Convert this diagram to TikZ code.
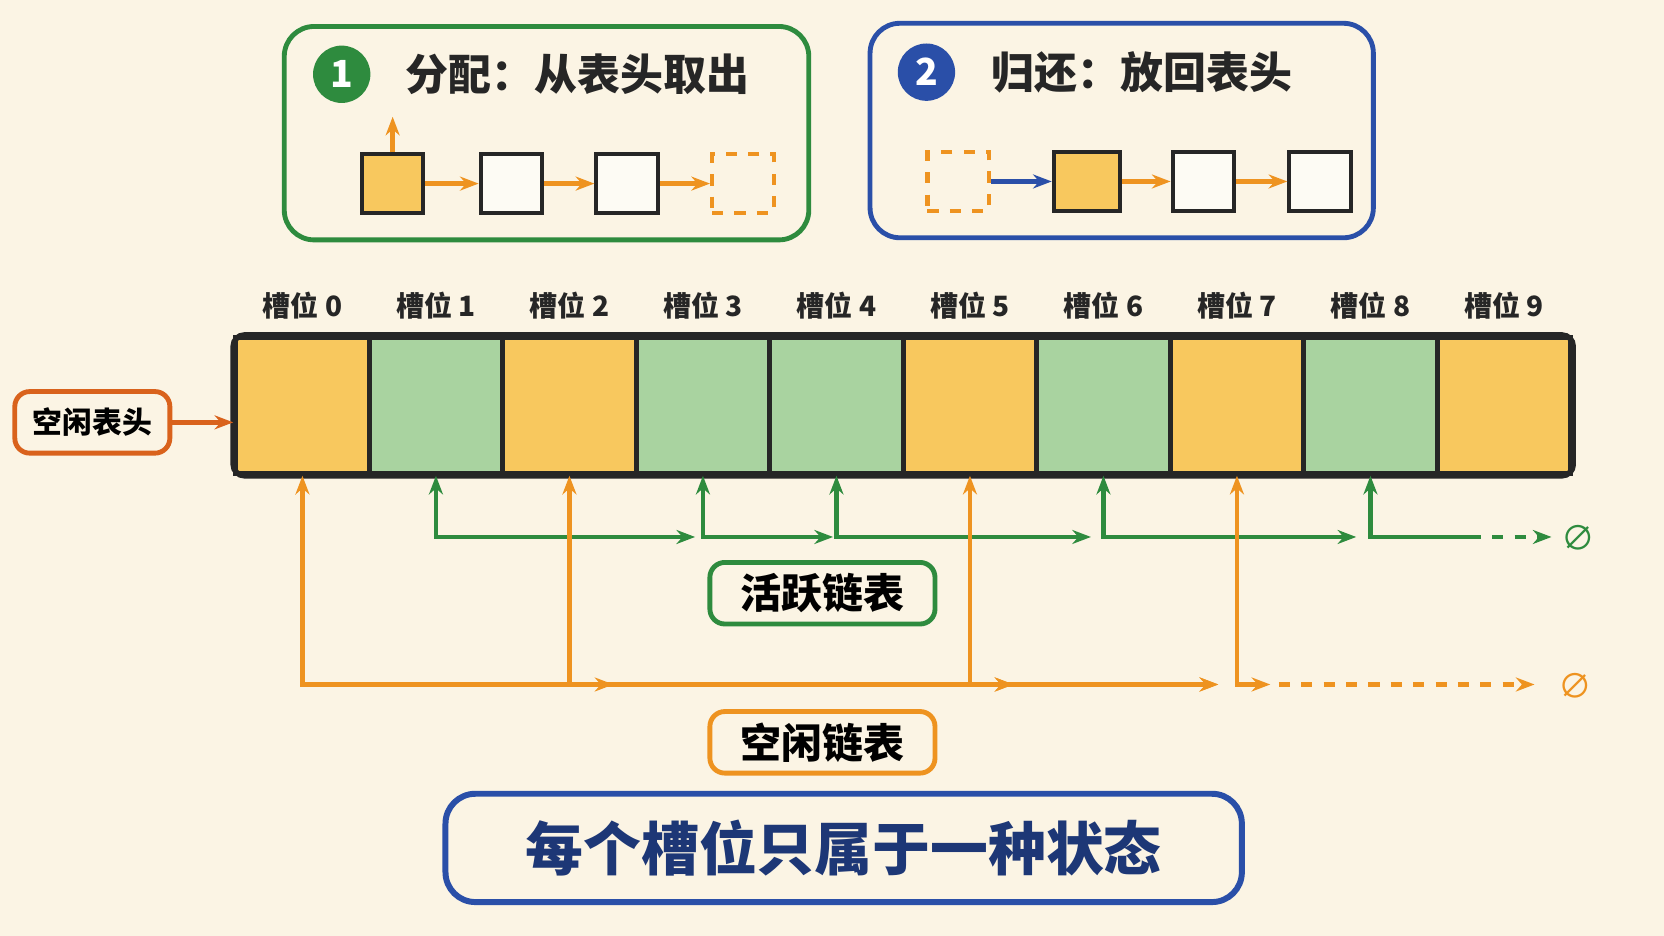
\documentclass[tikz,border=0pt]{standalone}
\usepackage{fontspec}
\setmainfont{Noto Sans CJK SC}
\usetikzlibrary{arrows.meta}
\definecolor{bg}{HTML}{FBF4E4}
\definecolor{yel}{HTML}{F8C85E}
\definecolor{grn}{HTML}{A9D3A0}
\definecolor{dgrn}{HTML}{2E8B3E}
\definecolor{org}{HTML}{EE9320}
\definecolor{dorg}{HTML}{D9621C}
\definecolor{blu}{HTML}{2A4FA8}
\definecolor{ink}{HTML}{262626}
\tikzset{
 slot/.style={draw=ink,line width=1.3pt,minimum width=1.258cm,minimum height=1.28cm,inner sep=0},
 mini/.style={draw=ink,line width=1.1pt,minimum width=0.58cm,minimum height=0.55cm,inner sep=0,fill=white!60!bg},
 lbl/.style={font=\fontsize{7.5}{8}\selectfont\bfseries,text=ink},
 tag/.style={rounded corners=4pt,line width=1.3pt,fill=bg,inner sep=0,minimum height=0.58cm},
 ga/.style={draw=dgrn,line width=1.2pt,{Stealth[length=5pt]}-{Stealth[length=5pt]}},
 oa/.style={draw=org,line width=1.2pt,{Stealth[length=5pt]}-{Stealth[length=5pt]}},
 ar/.style={line width=1.2pt,-{Stealth[length=5pt]}},
}
\begin{document}
\begin{tikzpicture}[x=0.01cm,y=-0.01cm]
\fill[bg] (0,0) rectangle (1568,882);
\useasboundingbox (0,0) rectangle (1568,882);
% top panel 1
\node[draw=dgrn,line width=1.3pt,rounded corners=8pt,minimum width=4.94cm,minimum height=2.01cm] (p1) at (515,125.5) {};
\node[circle,fill=dgrn,minimum size=0.54cm,inner sep=0,text=white,font=\fontsize{10}{10}\selectfont\bfseries] (c1) at (322,70) {1};
\node[anchor=west,font=\fontsize{11.5}{12}\selectfont\bfseries,text=ink] (t1) at (370,70) {分配：从表头取出};
\node[mini,fill=yel] (a1) at (370,173) {};
\node[mini] (a2) at (482,173) {};
\node[mini] (a3) at (591,173) {};
\node[mini,draw=org,dashed,fill=none] (a4) at (700,173) {};
\coordinate (up) at (370,110);
\draw[ar,org] (a1) -- (up);
\draw[ar,org] (a1) -- (a2);
\draw[ar,org] (a2) -- (a3);
\draw[ar,org] (a3) -- (a4);
% top panel 2
\node[draw=blu,line width=1.3pt,rounded corners=8pt,minimum width=4.74cm,minimum height=2.02cm] (p2) at (1057,123) {};
\node[circle,fill=blu,minimum size=0.54cm,inner sep=0,text=white,font=\fontsize{10}{10}\selectfont\bfseries] (c2) at (873,68) {2};
\node[anchor=west,font=\fontsize{11.5}{12}\selectfont\bfseries,text=ink] (t2) at (922,68) {归还：放回表头};
\node[mini,draw=org,dashed,fill=none] (b1) at (903,171) {};
\node[mini,fill=yel,minimum width=0.62cm] (b2) at (1024,171) {};
\node[mini] (b3) at (1134,171) {};
\node[mini] (b4) at (1244,171) {};
\draw[ar,blu] (b1) -- (b2);
\draw[ar,org] (b2) -- (b3);
\draw[ar,org] (b3) -- (b4);
% slots
\foreach \i/\c in {0/yel,1/grn,2/yel,3/grn,4/grn,5/yel,6/grn,7/yel,8/grn,9/yel}{
  \node[slot,fill=\c] (s\i) at ({285+125.8*\i},382) {};
  \node[lbl] (l\i) at ({285+125.8*\i},288) {槽位 \i};
}
\draw[ink,line width=1.5pt,rounded corners=3pt] (s0.north west) rectangle (s9.south east);
% free head
\node[tag,draw=dorg,minimum width=1.46cm,font=\fontsize{8}{8}\selectfont\bfseries] (fh) at (87,398) {空闲表头};
\draw[ar,dorg] (fh) -- (s0.west |- fh);
% active list
\foreach \a/\b/\e in {1/3/655,3/4/785,4/6/1028,6/8/1278}{
  \coordinate (g\a) at (\e,506);
  \draw[ga] (s\a.south) |- (g\a);
}
\coordinate (gd1) at (1385,506);
\coordinate (gd2) at (1462,506);
\draw[dgrn,line width=1.2pt,{Stealth[length=5pt]}-] (s8.south) |- (gd1);
\draw[dgrn,line width=1.2pt,dashed,-{Stealth[length=5pt]}] (gd1) -- (gd2);
\node[text=dgrn,font=\fontsize{9}{10}\selectfont] (n1) at (1487,507) {∅};
% free list
\foreach \a/\e in {0/578,2/955,5/1148}{
  \coordinate (o\a) at (\e,645);
}
\draw[oa] (s0.south) |- (o0);
\draw[org,line width=1.2pt,-{Stealth[length=5pt]}] (o0) -- (o2);
\draw[oa] (s2.south) |- (o2);
\draw[org,line width=1.2pt,-{Stealth[length=5pt]}] (o2) -- (o5);
\draw[oa] (s5.south) |- (o5);
\coordinate (o7) at (1197,645);
\coordinate (od) at (1205,645);
\coordinate (oe) at (1446,645);
\draw[oa] (s7.south) |- (o7);
\draw[org,line width=1.2pt,dashed,-{Stealth[length=5pt]}] (od) -- (oe);
\node[text=org,font=\fontsize{9}{10}\selectfont] (n2) at (1484,646) {∅};
% list labels
\node[tag,draw=dgrn,minimum width=2.12cm,font=\fontsize{11}{12}\selectfont\bfseries] (al) at (775,559) {活跃链表};
\node[tag,draw=org,minimum width=2.12cm,font=\fontsize{11}{12}\selectfont\bfseries] (fl) at (775,699.5) {空闲链表};
% bottom
\node[draw=blu,line width=1.6pt,rounded corners=8pt,minimum width=7.5cm,minimum height=1.02cm,text=blu!70!black,font=\fontsize{15.5}{18}\selectfont\bfseries] (bt) at (795,799) {每个槽位只属于一种状态};
\end{tikzpicture}
\end{document}
